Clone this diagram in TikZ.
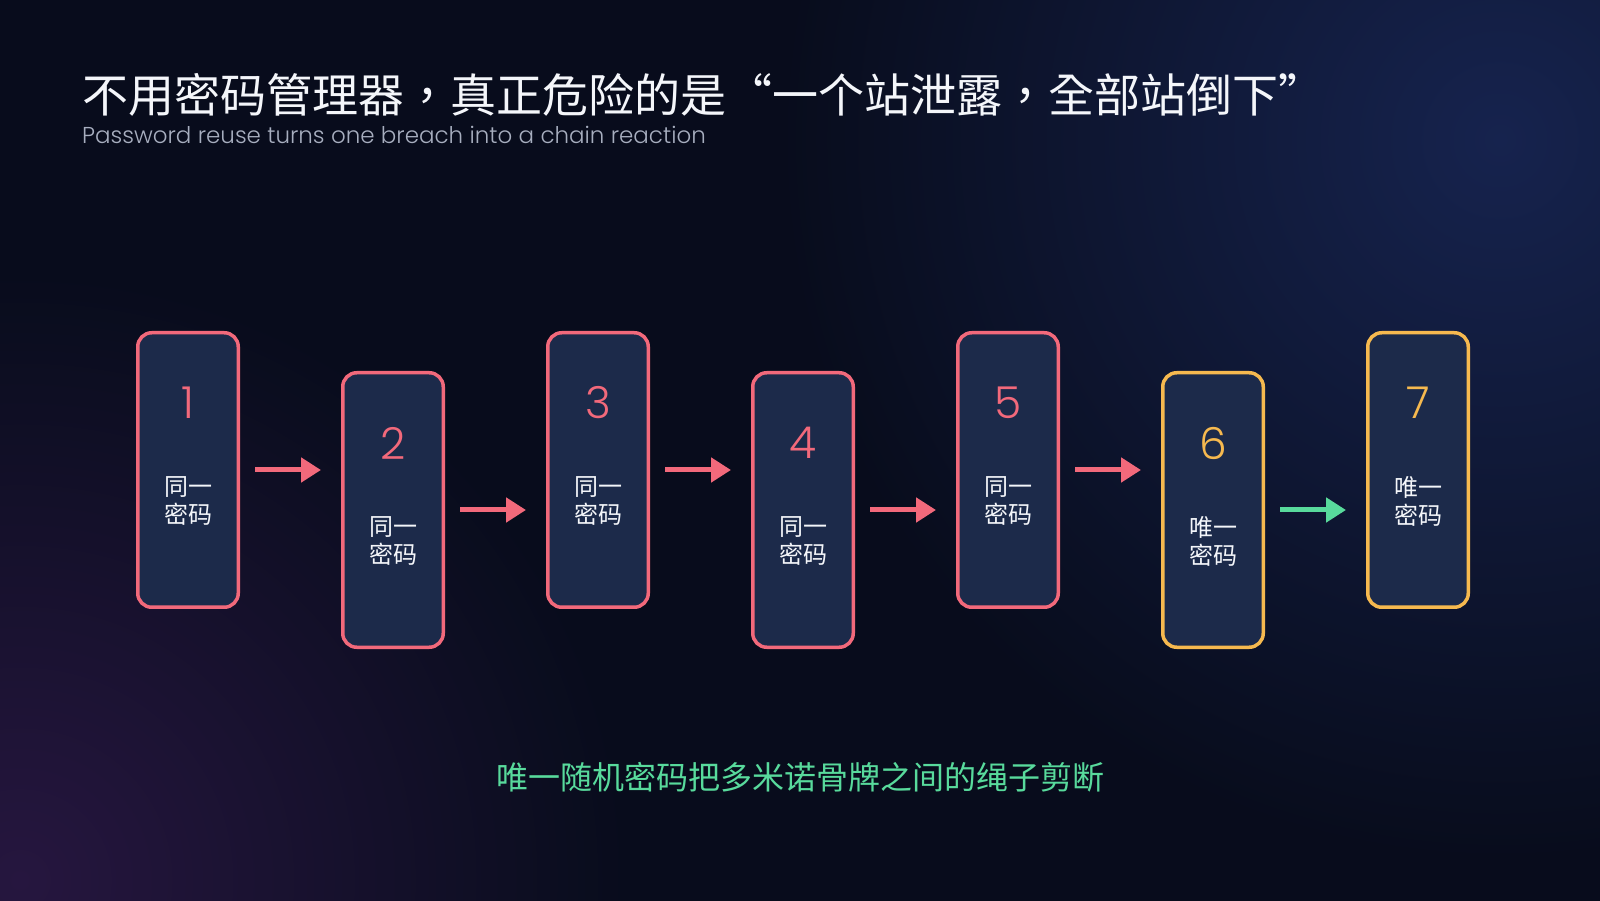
\documentclass[tikz,border=0pt]{standalone}
\usepackage{fontspec}
\setmainfont{Poppins}[UprightFont=* Light]
\newfontfamily\cjk{Noto Sans CJK SC}
\newfontfamily\cjkt{Noto Sans CJK TC}
\usetikzlibrary{positioning,arrows.meta,calc}
\definecolor{bgc}{HTML}{080C1C}
\definecolor{glowb}{HTML}{16234E}
\definecolor{glowp}{HTML}{26163F}
\definecolor{cardc}{HTML}{1C2A4A}
\definecolor{hotc}{HTML}{F2697B}
\definecolor{goldc}{HTML}{F6B94F}
\definecolor{safec}{HTML}{58DA9C}
\definecolor{subc}{HTML}{A7AEBF}
\definecolor{inkc}{HTML}{F4F6FA}
\pgfdeclareradialshading{glowB}{\pgfpoint{0bp}{0bp}}{color(0bp)=(glowb); color(20bp)=(bgc); color(50bp)=(bgc)}
\pgfdeclareradialshading{glowP}{\pgfpoint{0bp}{0bp}}{color(0bp)=(glowp); color(20bp)=(bgc); color(50bp)=(bgc)}
\tikzset{
  card/.style ={draw=hotc,line width=3.5pt,rounded corners=14pt,fill=cardc,
                minimum width=100.5pt,minimum height=274.5pt,inner sep=0pt},
  cardU/.style={card,draw=goldc},
  num/.style  ={font=\fontsize{44}{44}\selectfont,text=hotc},
  numU/.style ={num,text=goldc},
  tag/.style  ={font=\cjk\fontsize{24}{28}\selectfont,text=inkc,align=center},
  ttl/.style  ={font=\cjkt\fontsize{46}{46}\selectfont,text=inkc,inner sep=0pt},
  sub/.style  ={font=\fontsize{23}{23}\selectfont,text=subc,inner sep=0pt},
  note/.style ={font=\cjk\fontsize{32}{32}\selectfont,text=safec,inner sep=0pt},
  ar/.style   ={-{Triangle[length=20pt,width=24pt]},draw=hotc,line width=5pt,
                shorten <=15pt,shorten >=20pt},
  arS/.style  ={ar,draw=safec},
}
\begin{document}
\begin{tikzpicture}[x=1pt,y=1pt,node distance=101pt]
\useasboundingbox (0,0) rectangle (1600,900);

% background glow
\fill[bgc] (-20,-20) rectangle (1620,920);
\shade[shading=glowB] (1500,760) circle (900);
\shade[shading=glowP] (20,20) circle (760);

% heading
\node[ttl,anchor=base west] (title) at (82,787)
  {不用密码管理器，真正危险的是“一个站泄露，全部站倒下”};
\node[sub,anchor=base west] (subt) at ($(title.base west)+(0,-31)$)
  {Password reuse turns one breach into a chain reaction};

% domino cards
\node[card] (b1) at (188,430) {};
\node[card,right=of b1,yshift=-40pt] (b2) {};
\node[card,right=of b2,yshift=40pt]  (b3) {};
\node[card,right=of b3,yshift=-40pt] (b4) {};
\node[card,right=of b4,yshift=40pt]  (b5) {};
\node[cardU,right=of b5,yshift=-40pt] (b6) {};
\node[cardU,right=of b6,yshift=40pt]  (b7) {};

\node[num,below=72pt of b1.north,anchor=center]  (n1) {1};
\node[num,below=72pt of b2.north,anchor=center]  (n2) {2};
\node[num,below=72pt of b3.north,anchor=center]  (n3) {3};
\node[num,below=72pt of b4.north,anchor=center]  (n4) {4};
\node[num,below=72pt of b5.north,anchor=center]  (n5) {5};
\node[numU,below=72pt of b6.north,anchor=center] (n6) {6};
\node[numU,below=72pt of b7.north,anchor=center] (n7) {7};

\node[tag,below=170pt of b1.north,anchor=center] (w1) {同一\\密码};
\node[tag,below=170pt of b2.north,anchor=center] (w2) {同一\\密码};
\node[tag,below=170pt of b3.north,anchor=center] (w3) {同一\\密码};
\node[tag,below=170pt of b4.north,anchor=center] (w4) {同一\\密码};
\node[tag,below=170pt of b5.north,anchor=center] (w5) {同一\\密码};
\node[tag,below=170pt of b6.north,anchor=center] (w6) {唯一\\密码};
\node[tag,below=170pt of b7.north,anchor=center] (w7) {唯一\\密码};

\draw[ar](b1.east)--(b1.east-|b2.west);
\draw[ar](b2.east)--(b2.east-|b3.west);
\draw[ar](b3.east)--(b3.east-|b4.west);
\draw[ar](b4.east)--(b4.east-|b5.west);
\draw[ar](b5.east)--(b5.east-|b6.west);
\draw[arS](b6.east)--(b6.east-|b7.west);

% take-away
\node[note,anchor=base] (msg) at (800,111) {唯一随机密码把多米诺骨牌之间的绳子剪断};
\end{tikzpicture}
\end{document}
